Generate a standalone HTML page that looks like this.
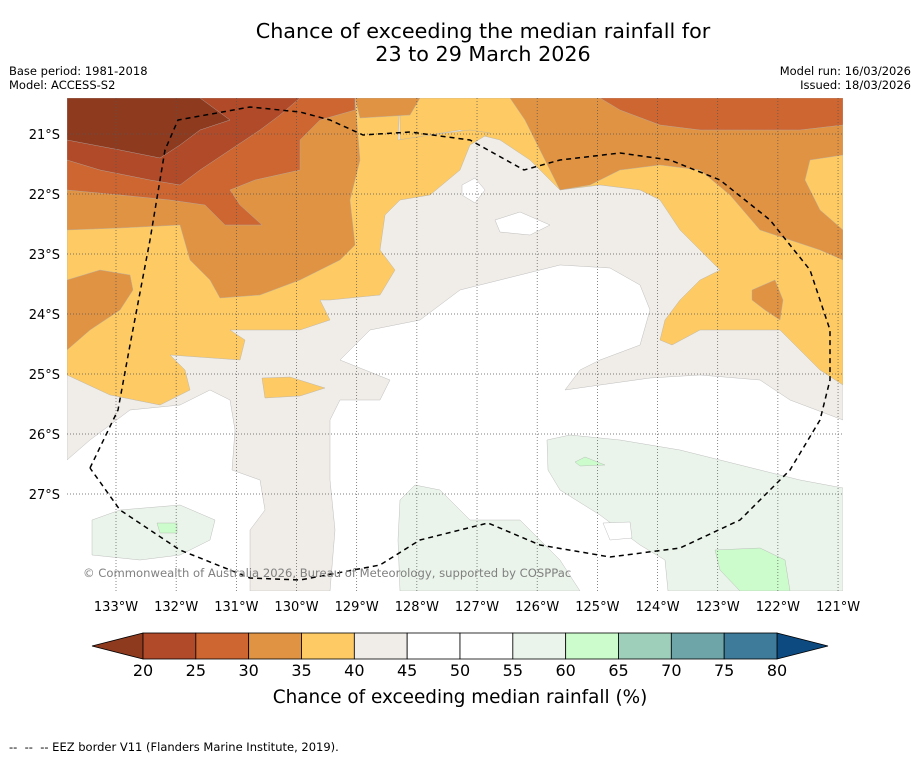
<!DOCTYPE html>
<html><head><meta charset="utf-8"><style>
body{margin:0;background:#fff;width:919px;height:758px;overflow:hidden;font-family:"DejaVu Sans","Liberation Sans",sans-serif}
svg text{font-family:"DejaVu Sans","Liberation Sans",sans-serif}
</style></head><body>
<svg id="chart" width="919" height="758" xmlns="http://www.w3.org/2000/svg">
<text x="483" y="38" font-size="20.7" text-anchor="middle">Chance of exceeding the median rainfall for</text>
<text x="483" y="61" font-size="20.7" text-anchor="middle">23 to 29 March 2026</text>
<text x="9" y="75" font-size="11.5">Base period: 1981-2018</text>
<text x="9" y="89" font-size="11.5">Model: ACCESS-S2</text>
<text x="911" y="75" font-size="11.5" text-anchor="end">Model run: 16/03/2026</text>
<text x="911" y="89" font-size="11.5" text-anchor="end">Issued: 18/03/2026</text>
<defs><clipPath id="mapclip"><rect x="67" y="98" width="776" height="493"/></clipPath></defs>
<g id="map" clip-path="url(#mapclip)">
<rect x="67" y="98" width="776" height="493" fill="#ffffff"/>
</g>
<g id="axes"></g>
<g id="cbar"></g>
<text x="460" y="703" font-size="18.4" text-anchor="middle">Chance of exceeding median rainfall (%)</text>
<text x="9" y="751" font-size="11.5" xml:space="preserve">--  --  -- EEZ border V11 (Flanders Marine Institute, 2019).</text>
</svg>
<script>
const levels=[20,25,30,35,40,45,50,55,60,65,70,75,80];
const binColors=["#b04a28","#cd6631","#e09343","#fdca64","#f0ece7","#ffffff","#ffffff","#eaf4ea","#ccfccc","#9dcfbb","#6ea5a8","#3e7a9a"];
const underColor="#8e3a1f", overColor="#0d4a80";
const lonTicks=[133,132,131,130,129,128,127,126,125,124,123,122,121];
const latTicks=[21,22,23,24,25,26,27];
const NS="http://www.w3.org/2000/svg";
const xLon=l=>116+(133-l)*60.17;
const yLat=l=>134+(l-21)*60;
const xCb=v=>143+(v-20)*(777-143)/60;
function mk(t,a,p){const e=document.createElementNS(NS,t);for(const k in a)e.setAttribute(k,a[k]);p.appendChild(e);return e;}
const regions=[
 ["#f0ece7","region-40-45","67,98 843,98 843,420 790,400 760,380 700,375 650,378 600,385 565,390 580,370 600,360 640,345 650,310 640,285 610,268 560,265 520,275 460,290 420,320 370,330 340,360 390,380 380,400 340,400 330,420 330,480 335,530 330,591 250,591 250,530 265,510 260,480 232,470 235,430 230,400 210,390 180,405 130,410 90,440 67,460"],
 ["#fdca64","region-35-40-right","67,98 400,98 400,140 460,130 500,140 530,160 560,190 600,185 640,190 660,200 680,230 700,250 720,270 700,280 680,300 665,320 660,340 672,345 700,330 740,330 780,330 800,350 820,370 843,385 843,98 67,98 67,98"],
 ["#fdca64","region-35-40-main","67,98 400,98 398,140 430,135 470,130 490,133 470,145 460,170 430,195 400,200 385,215 380,250 395,270 380,295 330,300 320,300 330,320 300,330 230,330 245,340 240,360 170,355 185,370 190,390 160,405 110,395 67,375"],
 ["#fdca64","region-35-40-small","262,378 290,377 325,388 300,396 265,398"],
 ["#e09343","region-30-35-left","67,98 355,98 360,160 350,200 355,245 340,260 300,280 260,295 220,298 210,280 190,260 180,225 120,228 67,230"],
 ["#e09343","region-30-35-lobe","67,280 100,270 130,275 133,290 120,310 90,330 67,350"],
 ["#e09343","region-30-35-top","355,98 420,98 410,115 360,118"],
 ["#e09343","region-30-35-right","510,98 843,98 843,155 810,160 805,180 820,210 843,230 843,260 820,250 790,240 760,230 730,195 700,170 660,165 620,170 590,185 560,190 545,160 525,120"],
 ["#e09343","region-30-35-blob","752,290 775,280 783,300 780,320 765,310 752,300"],
 ["#cd6631","region-25-30-left","67,98 355,98 355,110 320,120 300,140 300,170 255,180 230,190 240,205 262,225 225,225 205,205 170,200 120,195 67,190"],
 ["#cd6631","region-25-30-right","600,98 843,98 843,125 800,130 760,130 700,130 660,125 620,110"],
 ["#b04a28","region-20-25","67,98 300,98 280,115 260,130 230,150 200,170 180,185 150,180 100,170 67,160"],
 ["#8e3a1f","region-below-20","67,98 200,98 230,120 200,130 180,145 160,158 120,150 67,140"],
 ["#eaf4ea","region-55-60-left","92,520 120,510 180,505 215,520 210,540 180,555 140,560 92,555"],
 ["#eaf4ea","region-55-60-middle","400,500 415,485 440,490 470,520 520,520 560,560 580,591 400,591 398,540"],
 ["#eaf4ea","region-55-60-right","547,440 570,435 620,440 680,450 720,460 760,470 800,480 843,488 843,591 668,591 665,560 640,545 600,515 560,490 548,470"],
 ["#ccfccc","region-60-65-a","157,523 177,523 177,533 160,533"],
 ["#ccfccc","region-60-65-b","575,462 585,457 605,465 580,466"],
 ["#ccfccc","region-60-65-c","715,550 760,548 785,560 790,591 740,591 720,570"],
 ["#ffffff","region-white-hole-a","462,185 475,178 485,190 475,203 462,195"],
 ["#ffffff","region-white-hole-b","495,220 520,212 550,225 530,235 500,232"],
 ["#ffffff","region-white-hole-c","603,523 630,522 632,538 610,540"]
];
const map=document.getElementById('map');
for(const r of regions){const p=mk('polygon',{points:r[2],fill:r[0],stroke:"#b0b0b0","stroke-width":0.4},map);

}
for(const l of lonTicks){const g=mk('line',{x1:xLon(l),x2:xLon(l),y1:98,y2:591,stroke:"#555","stroke-width":0.7,"stroke-dasharray":"1,2"},map);

}
for(const l of latTicks){const g=mk('line',{x1:67,x2:843,y1:yLat(l),y2:yLat(l),stroke:"#555","stroke-width":0.7,"stroke-dasharray":"1,2"},map);

}
const eez=mk('polyline',{points:"90,468 118,410 130,345 150,240 165,150 178,120 250,107 300,112 330,120 363,135 410,132 470,140 524,170 560,160 620,153 670,160 720,180 770,220 810,270 830,330 830,380 820,420 790,470 740,520 680,548 610,557 540,545 488,523 420,540 380,565 300,580 250,578 180,550 120,510 90,468",fill:"none",stroke:"#000","stroke-width":1.5,"stroke-dasharray":"5,4"},map);


const cp=mk('text',{x:83,y:577,"font-size":11.6,fill:"#808080"},map);cp.textContent="© Commonwealth of Australia 2026, Bureau of Meteorology, supported by COSPPac";


const ax=document.getElementById('axes');
for(const l of latTicks){const t=mk('text',{x:60,y:yLat(l)+5,"font-size":13,"text-anchor":"end"},ax);t.textContent=l+"°S";

}
for(const l of lonTicks){const t=mk('text',{x:xLon(l),y:611,"font-size":13,"text-anchor":"middle"},ax);t.textContent=l+"°W";

}
const cb=document.getElementById('cbar');
const y0=633,y1=659;
const u=mk('polygon',{points:`92,${(y0+y1)/2} ${xCb(20)},${y0} ${xCb(20)},${y1}`,fill:underColor,stroke:"#000","stroke-width":0.8},cb);


const o=mk('polygon',{points:`828,${(y0+y1)/2} ${xCb(80)},${y0} ${xCb(80)},${y1}`,fill:overColor,stroke:"#000","stroke-width":0.8},cb);


for(let i=0;i<binColors.length;i++){const r=mk('rect',{x:xCb(levels[i]),y:y0,width:xCb(levels[i+1])-xCb(levels[i]),height:y1-y0,fill:binColors[i],stroke:"#000","stroke-width":0.8},cb);

}
for(const v of levels){const t=mk('text',{x:xCb(v),y:676,"font-size":16,"text-anchor":"middle"},cb);t.textContent=v;

}
</script>
</body></html>
